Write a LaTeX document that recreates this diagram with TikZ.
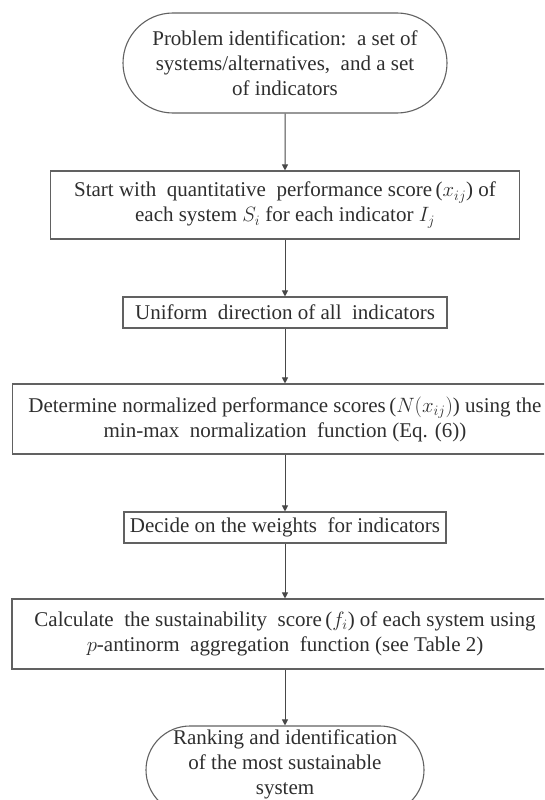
\documentclass[tikz,border=0pt]{standalone}
\usepackage{fontspec}
\setmainfont{Liberation Serif}
\usetikzlibrary{shapes.misc,arrows.meta}
\begin{document}
\begin{tikzpicture}[x=1pt,y=-1pt,
  every node/.style={font=\fontsize{21}{25}\selectfont, text=black!82, align=center, inner sep=0pt},
  stepbox/.style={draw=black!62, line width=1.1pt, rectangle},
  terminal/.style={draw=black!62, line width=1.1pt, rounded rectangle},
  flow/.style={draw=black!72, line width=1pt, -{Triangle[length=6pt,width=6pt]}}]
\clip (0,0) rectangle (544,800);

% process steps, top to bottom
\node[terminal, minimum width=324pt, minimum height=100pt] (start) at (285,63)
  {Problem identification:\ \ a set of\\systems/alternatives,\ \ and a set\\of indicators};
\node[stepbox, minimum width=469pt, minimum height=68pt] (quant) at (285,205)
  {Start with\ \ quantitative\ \ performance score\,($x_{ij}$) of\\each system $S_i$ for each indicator $I_j$};
\node[stepbox, minimum width=324pt, minimum height=31pt] (unif) at (285,312.5)
  {Uniform\ \ direction of all\ \ indicators};
\node[stepbox, minimum width=545pt, minimum height=70pt] (norm) at (285,419)
  {Determine normalized performance scores\,($N(x_{ij})$) using the\\min-max\ \ normalization\ \ function (Eq. (6))};
\node[stepbox, minimum width=322pt, minimum height=31pt] (weights) at (285,527.5)
  {Decide on the weights\ \ for indicators};
\node[stepbox, minimum width=546pt, minimum height=70pt] (calc) at (285,634)
  {Calculate\ \ the sustainability\ \ score\,($f_i$) of each system using\\$p$-antinorm\ \ aggregation\ \ function (see Table 2)};
\node[terminal, minimum width=278pt, minimum height=88pt] (rank) at (285,770)
  {\raisebox{0pt}[0pt][0pt]{\begin{tabular}{@{}c@{}}Ranking and identification\\of the most sustainable\\system\end{tabular}}};

% connectors
\draw[flow] (start) -- (quant);
\draw[flow] (quant) -- (unif);
\draw[flow] (unif) -- (norm);
\draw[flow] (norm) -- (weights);
\draw[flow] (weights) -- (calc);
\draw[flow] (calc) -- (rank);
\end{tikzpicture}
\end{document}
